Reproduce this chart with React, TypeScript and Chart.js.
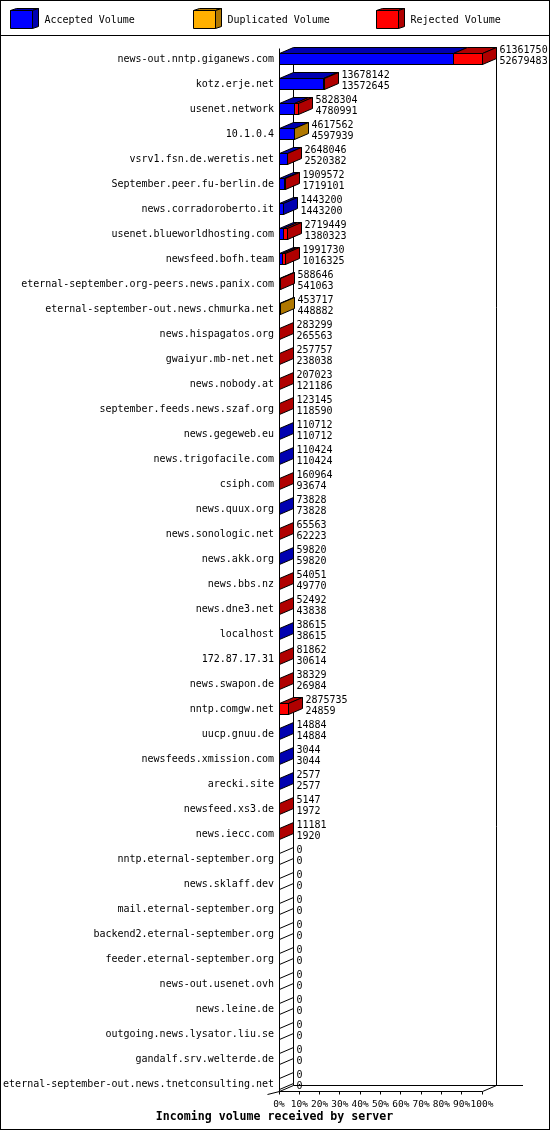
import { useEffect, useRef } from 'react';
import { Chart, BarController, BarElement, CategoryScale, LinearScale } from 'chart.js';

Chart.register(BarController, BarElement, CategoryScale, LinearScale);

const SERVERS = [
  'news-out.nntp.giganews.com', 'kotz.erje.net', 'usenet.network', '10.1.0.4',
  'vsrv1.fsn.de.weretis.net', 'September.peer.fu-berlin.de', 'news.corradoroberto.it',
  'usenet.blueworldhosting.com', 'newsfeed.bofh.team', 'eternal-september.org-peers.news.panix.com',
  'eternal-september-out.news.chmurka.net', 'news.hispagatos.org', 'gwaiyur.mb-net.net',
  'news.nobody.at', 'september.feeds.news.szaf.org', 'news.gegeweb.eu', 'news.trigofacile.com',
  'csiph.com', 'news.quux.org', 'news.sonologic.net', 'news.akk.org', 'news.bbs.nz',
  'news.dne3.net', 'localhost', '172.87.17.31', 'news.swapon.de', 'nntp.comgw.net',
  'uucp.gnuu.de', 'newsfeeds.xmission.com', 'arecki.site', 'newsfeed.xs3.de', 'news.iecc.com',
  'nntp.eternal-september.org', 'news.sklaff.dev', 'mail.eternal-september.org',
  'backend2.eternal-september.org', 'feeder.eternal-september.org', 'news-out.usenet.ovh',
  'news.leine.de', 'outgoing.news.lysator.liu.se', 'gandalf.srv.welterde.de',
  'eternal-september-out.news.tnetconsulting.net',
];

const ACCEPTED = [
  52679483, 13572645, 4780991, 4597939, 2520382, 1719101, 1443200, 1380323, 1016325, 541063,
  448882, 265563, 238038, 121186, 118590, 110712, 110424, 93674, 73828, 62223,
  59820, 49770, 43838, 38615, 30614, 26984, 24859, 14884, 3044, 2577,
  1972, 1920, 0, 0, 0, 0, 0, 0, 0, 0, 0, 0,
];

const DUPLICATED = [
  0, 0, 0, 19623, 0, 0, 0, 0, 0, 0,
  4835, 0, 0, 0, 0, 0, 0, 0, 0, 0,
  0, 0, 0, 0, 0, 0, 0, 0, 0, 0,
  0, 0, 0, 0, 0, 0, 0, 0, 0, 0, 0, 0,
];

const REJECTED = [
  8682267, 105497, 1047313, 0, 127664, 190471, 0, 1339126, 975405, 47583,
  0, 17736, 19719, 85837, 4555, 0, 0, 67290, 0, 3340,
  0, 4281, 8654, 0, 51248, 11345, 2850876, 0, 0, 0,
  3175, 9261, 0, 0, 0, 0, 0, 0, 0, 0, 0, 0,
];

const SERIES = [
  { label: 'Accepted Volume', data: ACCEPTED, front: '#0000ff', shade: '#0000b0' },
  { label: 'Duplicated Volume', data: DUPLICATED, front: '#ffb000', shade: '#b07800' },
  { label: 'Rejected Volume', data: REJECTED, front: '#ff0000', shade: '#b00000' },
];

const TOTALS = SERVERS.map((_, i) => ACCEPTED[i] + DUPLICATED[i] + REJECTED[i]);
const MAX = Math.max(...TOTALS);

const DX = 14;
const DY = 6;
const MONO = '"DejaVu Sans Mono", monospace';

const poly = (ctx: CanvasRenderingContext2D, pts: number[][], fill: string) => {
  ctx.beginPath();
  ctx.moveTo(pts[0][0], pts[0][1]);
  for (let k = 1; k < pts.length; k++) ctx.lineTo(pts[k][0], pts[k][1]);
  ctx.closePath();
  ctx.fillStyle = fill;
  ctx.fill();
  ctx.stroke();
};

const line = (ctx: CanvasRenderingContext2D, x1: number, y1: number, x2: number, y2: number) => {
  ctx.beginPath();
  ctx.moveTo(x1, y1);
  ctx.lineTo(x2, y2);
  ctx.stroke();
};

const px = (v: number) => Math.round(v) + 0.5;

const bars3d = {
  id: 'bars3d',
  beforeDatasetsDraw(chart: Chart) {
    const { ctx, chartArea } = chart;
    const xs = chart.scales.x;
    const x0 = px(xs.getPixelForValue(0) - 0.5);
    const x1 = px(xs.getPixelForValue(MAX) - 0.5);
    const top = px(chartArea.top + 1);
    const fb = px(chartArea.bottom - 6);
    const bb = fb - DY;
    ctx.save();
    ctx.strokeStyle = '#000';
    ctx.lineWidth = 1;
    line(ctx, x0, top, x0, fb);
    line(ctx, x0 + DX, top, x0 + DX, bb);
    line(ctx, x1 + DX, top, x1 + DX, bb);
    line(ctx, x0, fb, x1, fb);
    line(ctx, x1, fb, x1 + DX, bb);
    line(ctx, x0 + DX, bb, 523, bb);
    line(ctx, x0, fb, x0 + DX, bb);
    line(ctx, x0 - 12, fb + 3, x0, fb);
    xs.ticks.forEach((t) => {
      const tx = px(xs.getPixelForValue(t.value) - 0.5);
      line(ctx, tx, fb, tx, fb + 3);
    });
    ctx.restore();
  },
  afterDatasetsDraw(chart: Chart) {
    const { ctx } = chart;
    const xs = chart.scales.x;
    const x0 = px(xs.getPixelForValue(0) - 0.5);
    ctx.save();
    ctx.strokeStyle = '#000';
    ctx.lineWidth = 1;
    ctx.font = `10px ${MONO}`;
    SERVERS.forEach((_, i) => {
      const first = chart.getDatasetMeta(0).data[i] as any;
      const { y, height } = first.getProps(['y', 'height'], true);
      const t = y - height / 2;
      const b = y + height / 2;
      let end = x0;
      let shade = '#ffffff';
      SERIES.forEach((s, d) => {
        const el = chart.getDatasetMeta(d).data[i] as any;
        const { x, base } = el.getProps(['x', 'base'], true);
        if (s.data[i] > 0) shade = s.shade;
        const e = px(x - 0.5);
        const st = px(base - 0.5);
        if (e - st >= 1) {
          poly(ctx, [[st, t], [e, t], [e + DX, t - DY], [st + DX, t - DY]], s.shade);
          line(ctx, e, t, e, b);
        }
        if (s.data[i] > 0) end = Math.max(end, e);
      });
      poly(ctx, [[end, t], [end + DX, t - DY], [end + DX, b - DY], [end, b]], shade);
      ctx.strokeRect(x0, t, end - x0, b - t);
      ctx.fillStyle = '#000';
      ctx.textBaseline = 'middle';
      ctx.textAlign = 'left';
      ctx.fillText(String(TOTALS[i]), end + DX + 3, y - 9);
      ctx.fillText(String(ACCEPTED[i]), end + DX + 3, y + 2);
    });
    ctx.restore();
  },
  afterDraw(chart: Chart) {
    const { ctx, width, height } = chart;
    ctx.save();
    ctx.strokeStyle = '#000';
    ctx.lineWidth = 1;
    // legend
    SERIES.forEach((s, k) => {
      const bx = 10.5 + k * 183;
      poly(ctx, [[bx, 10.5], [bx + 22, 10.5], [bx + 28, 8.5], [bx + 6, 8.5]], s.shade);
      poly(ctx, [[bx + 22, 10.5], [bx + 28, 8.5], [bx + 28, 26.5], [bx + 22, 28.5]], s.shade);
      poly(ctx, [[bx, 10.5], [bx + 22, 10.5], [bx + 22, 28.5], [bx, 28.5]], s.front);
      ctx.fillStyle = '#000';
      ctx.font = `10px ${MONO}`;
      ctx.textBaseline = 'middle';
      ctx.textAlign = 'left';
      ctx.fillText(s.label, bx + 34, 20);
    });
    line(ctx, 0, 35.5, width, 35.5);
    ctx.strokeRect(0.5, 0.5, width - 1, height - 1);
    // title
    ctx.fillStyle = '#000';
    ctx.font = `bold 11.6px ${MONO}`;
    ctx.textAlign = 'center';
    ctx.textBaseline = 'middle';
    ctx.fillText('Incoming volume received by server', 274.5, 1117);
    ctx.restore();
  },
};

export default function App() {
  const canvasRef = useRef<HTMLCanvasElement>(null);

  useEffect(() => {
    if (!canvasRef.current) return;
    const chart = new Chart(canvasRef.current, {
      type: 'bar',
      data: {
        labels: SERVERS,
        datasets: SERIES.map((s) => ({
          label: s.label,
          data: s.data,
          backgroundColor: s.front,
          borderWidth: 0,
          barThickness: 11,
        })),
      },
      options: {
        indexAxis: 'y',
        responsive: true,
        maintainAspectRatio: false,
        animation: false,
        events: [],
        layout: { padding: { top: 46.5, right: 68, bottom: 0, left: 0 } },
        scales: {
          y: {
            type: 'category',
            stacked: true,
            grid: { display: false, drawTicks: false },
            border: { display: false },
            ticks: { autoSkip: false, padding: 5, color: '#000', font: { family: MONO, size: 10 } },
            afterFit: (s: any) => { s.width = 279; },
          },
          x: {
            type: 'linear',
            stacked: true,
            min: 0,
            max: MAX,
            grid: { display: false, drawTicks: false },
            border: { display: false },
            afterBuildTicks: (s: any) => {
              s.ticks = Array.from({ length: 11 }, (_, i) => ({ value: (MAX * i) / 10 }));
            },
            ticks: {
              autoSkip: false,
              maxRotation: 0,
              padding: 2,
              color: '#000',
              font: { family: MONO, size: 9.5 },
              callback: (v: any) => `${Math.round((Number(v) / MAX) * 100)}%`,
            },
            afterFit: (s: any) => { s.height = 33.5; },
          },
        },
      },
      plugins: [bars3d],
    });
    return () => chart.destroy();
  }, []);

  return (
    <div style={{ position: 'absolute', left: 0, top: 0, width: 550, height: 1130, background: '#fff' }}>
      <canvas ref={canvasRef} />
    </div>
  );
}
